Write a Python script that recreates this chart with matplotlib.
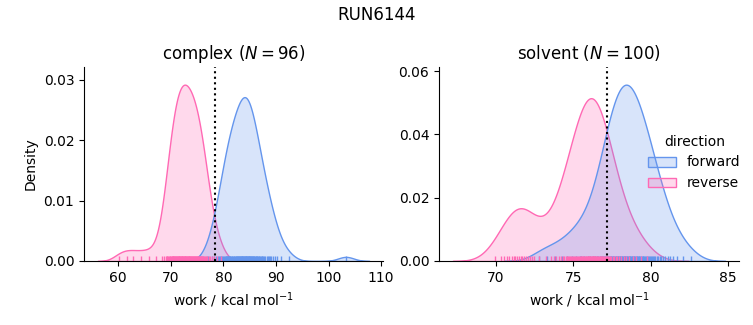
import numpy as np
import pandas as pd
import matplotlib
matplotlib.use("Agg")
import matplotlib.pyplot as plt
import seaborn as sns

run_name = "RUN6144"
phases = ["complex", "solvent"]
directions = ["forward", "reverse"]
palette = {"forward": "cornflowerblue", "reverse": "hotpink"}
ref_lines = {"complex": 78.34, "solvent": 77.15}

complex_forward = [
    77.0,
    77.75, 78.25,
    78.62, 78.88, 79.12, 79.38,
    79.58, 79.75, 79.92, 80.08, 80.25, 80.42,
    80.55, 80.65, 80.75, 80.85, 80.95, 81.05, 81.15, 81.25, 81.35, 81.45,
    81.56, 81.69, 81.81, 81.94, 82.06, 82.19, 82.31, 82.44,
    82.55, 82.64, 82.73, 82.82, 82.91, 83.0, 83.09, 83.18, 83.27, 83.36, 83.45,
    83.54, 83.62, 83.71, 83.79, 83.87, 83.96, 84.04, 84.12, 84.21, 84.29, 84.37, 84.46,
    84.54, 84.62, 84.71, 84.79, 84.87, 84.96, 85.04, 85.12, 85.21, 85.29, 85.37, 85.46,
    85.56, 85.67, 85.78, 85.89, 86.0, 86.11, 86.22, 86.33, 86.44,
    86.57, 86.71, 86.86, 87.0, 87.14, 87.29, 87.43,
    87.6, 87.8, 88.0, 88.2, 88.4,
    88.62, 88.88, 89.12, 89.38,
    89.75, 90.25,
    91.0,
    92.4,
    103.3,
]

complex_reverse = [
    60.2, 61.6, 62.9, 64.4, 65.8, 67.1, 68.4,
    68.7,
    69.07, 69.21, 69.36, 69.5, 69.64, 69.79, 69.93,
    70.05, 70.14, 70.23, 70.32, 70.41, 70.50, 70.59, 70.68, 70.77, 70.86, 70.95,
    71.04, 71.13, 71.21, 71.29, 71.38, 71.46, 71.54, 71.63, 71.71, 71.79, 71.88, 71.96,
    72.04, 72.13, 72.21, 72.29, 72.38, 72.46, 72.54, 72.63, 72.71, 72.79, 72.88, 72.96,
    73.04, 73.13, 73.21, 73.29, 73.38, 73.46, 73.54, 73.63, 73.71, 73.79, 73.88, 73.96,
    74.05, 74.15, 74.25, 74.35, 74.45, 74.55, 74.65, 74.75, 74.85, 74.95,
    75.05, 75.14, 75.23, 75.32, 75.41, 75.50, 75.59, 75.68, 75.77, 75.86, 75.95,
    76.07, 76.21, 76.36, 76.50, 76.64, 76.79, 76.93,
    77.17, 77.5, 77.83,
    78.25, 78.75,
    79.5,
]

solvent_forward = [
    72.75, 73.3, 73.8, 74.25, 74.6, 74.9, 75.15, 75.4,
    75.48, 75.72,
    75.93, 76.1, 76.27,
    76.4, 76.5, 76.6, 76.7, 76.8,
    76.88, 76.94, 77.0, 77.07, 77.13, 77.19, 77.25, 77.32,
    77.37, 77.42, 77.46, 77.51, 77.55, 77.6, 77.65, 77.69, 77.74, 77.78, 77.83,
    77.87, 77.91, 77.95, 78.0, 78.04, 78.08, 78.12, 78.16, 78.2, 78.25, 78.29, 78.33,
    78.37, 78.41, 78.45, 78.5, 78.54, 78.58, 78.62, 78.66, 78.7, 78.75, 78.79, 78.83,
    78.87, 78.92, 78.96, 79.01, 79.05, 79.1, 79.15, 79.19, 79.24, 79.28, 79.33,
    79.38, 79.43, 79.49, 79.54, 79.6, 79.66, 79.71, 79.77, 79.82,
    79.89, 79.96, 80.03, 80.1, 80.17, 80.24, 80.31,
    80.4, 80.5, 80.6, 80.7, 80.8,
    80.93, 81.1, 81.27,
    81.48, 81.72,
    82.1,
    82.6,
]

solvent_reverse = [
    69.9, 70.3, 70.52, 70.7, 70.86, 71.0, 71.13, 71.25, 71.37,
    71.48, 71.59, 71.7, 71.81, 71.92, 72.04, 72.17, 72.3, 72.44,
    72.8,
    73.2,
    73.55, 73.72, 73.88,
    74.05, 74.18, 74.3, 74.42,
    74.52, 74.59, 74.66, 74.73, 74.8, 74.87, 74.94,
    75.0, 75.06, 75.12, 75.18, 75.24, 75.3, 75.36, 75.42,
    75.47, 75.52, 75.56, 75.61, 75.65, 75.70, 75.75, 75.79, 75.84, 75.88, 75.93,
    75.97, 76.0, 76.04, 76.07, 76.11, 76.14, 76.18, 76.21, 76.25, 76.28, 76.32, 76.35, 76.39, 76.42,
    76.47, 76.52, 76.56, 76.61, 76.65, 76.70, 76.75, 76.79, 76.84, 76.88, 76.93,
    76.98, 77.04, 77.09, 77.15, 77.20, 77.26, 77.31, 77.37, 77.42,
    77.54, 77.64, 77.74, 77.84, 77.94,
    78.08, 78.25, 78.42,
    78.6, 78.85,
    79.07, 79.4,
    79.75,
]

samples = {
    ("complex", "forward"): complex_forward,
    ("complex", "reverse"): complex_reverse,
    ("solvent", "forward"): solvent_forward,
    ("solvent", "reverse"): solvent_reverse,
}

df = pd.concat(
    [pd.DataFrame({"phase": p, "direction": d, "work": v}) for (p, d), v in samples.items()],
    ignore_index=True,
)

g = sns.displot(
    data=df, x="work", hue="direction", col="phase", kind="kde",
    fill=True, rug=True, palette=palette, hue_order=directions,
    col_order=phases, facet_kws=dict(sharex=False, sharey=False),
)
fig = g.figure
fig.set_size_inches(7.53, 3.25)
fig.set_dpi(100)

positions = [[84 / 753, 64 / 325, 299 / 753, 194 / 325],
             [439 / 753, 64 / 325, 300 / 753, 194 / 325]]

for ax, phase, pos in zip(g.axes.flat, phases, positions):
    ax.set_position(pos)
    ax.axvline(ref_lines[phase], color="black", ls=":")
    n = len(samples[(phase, "forward")])
    ax.set_title(f"{phase} ($N = {n}$)")
    ax.set_xlabel("work / kcal mol$^{-1}$")

g.axes.flat[0].set_ylabel("Density")
g.axes.flat[1].set_ylabel("")

sns.move_legend(g, "center left", bbox_to_anchor=(0.844, 0.5), frameon=False)
fig.suptitle(run_name)

fig.savefig("out.png", dpi=100)
